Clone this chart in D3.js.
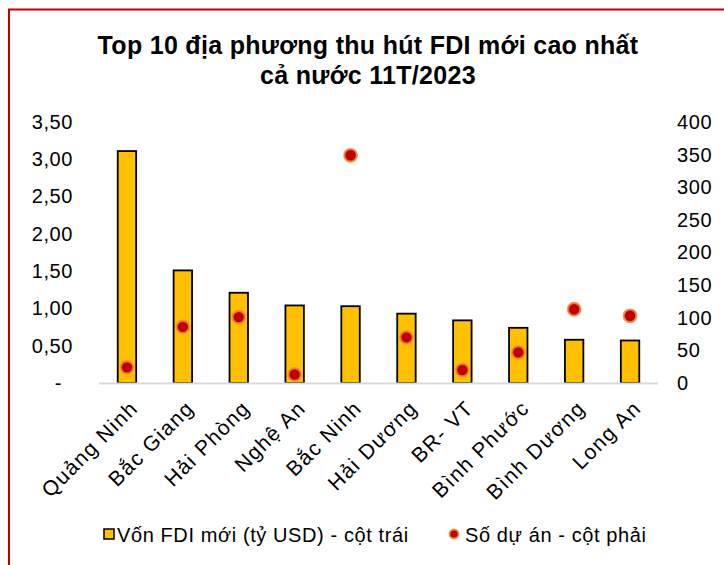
<!DOCTYPE html>
<html>
<head>
<meta charset="utf-8">
<script src="https://cdn.jsdelivr.net/npm/d3@7"></script>
<style>
  body { margin: 0; background: #fff; }
  svg text { font-family: "Liberation Sans", Arial, sans-serif; fill: #000; }
</style>
</head>
<body>
<script>
// Top 10 FDI localities chart - bars on left axis, dots on right axis

const w = 724;
const h = 565;

// data
const provinces = ["Quảng Ninh", "Bắc Giang", "Hải Phòng", "Nghệ An", "Bắc Ninh",
                   "Hải Dương", "BR- VT", "Bình Phước", "Bình Dương", "Long An"];
const fdiCapital = [3.11, 1.51, 1.21, 1.04, 1.03, 0.93, 0.84, 0.74, 0.58, 0.57]; // ty USD
const projectCount = [24, 86, 101, 13, 349, 70, 20, 47, 113, 103];
const leftTicks = [0, 0.5, 1, 1.5, 2, 2.5, 3, 3.5];
const rightTicks = [0, 50, 100, 150, 200, 250, 300, 350, 400];

const titleLines = ["Top 10 địa phương thu hút FDI mới cao nhất", "cả nước 11T/2023"];
const legendLabels = ["Vốn FDI mới (tỷ USD) - cột trái", "Số dự án - cột phải"];

// layout
const plotLeft = 99, plotRight = 658;
const plotTop = 122, plotBottom = 383;

const svg = d3.select("body")
  .append("svg")
  .attr("width", w)
  .attr("height", h);

// red frame (right and bottom edges are off the picture)
svg.append("rect")
  .attr("x", 9)
  .attr("y", 9.5)
  .attr("width", w + 20)
  .attr("height", h + 20)
  .attr("fill", "none")
  .attr("stroke", "#C00000")
  .attr("stroke-width", 2);

// scales
const xScale = d3.scaleBand()
  .domain(provinces)
  .range([plotLeft, plotRight])
  .paddingInner(0.67)
  .paddingOuter(0.335);

const yLeft = d3.scaleLinear().domain([0, 3.5]).range([plotBottom, plotTop]);
const yRight = d3.scaleLinear().domain([0, 400]).range([plotBottom, plotTop]);

// title
svg.append("g").selectAll("text")
  .data(titleLines)
  .enter()
  .append("text")
  .attr("x", 368)
  .attr("y", (d, i) => 54 + i * 30)
  .attr("text-anchor", "middle")
  .style("font-size", "25px")
  .style("letter-spacing", "0.3px")
  .style("font-weight", "bold")
  .text(d => d);

// left axis
const leftAxis = d3.axisLeft(yLeft)
  .tickValues(leftTicks)
  .tickSize(0)
  .tickPadding(0)
  .tickFormat(d => d === 0 ? "-" : d3.format(".2f")(d).replace(".", ","));

const gLeft = svg.append("g")
  .attr("transform", "translate(73,0)")
  .call(leftAxis);
gLeft.select(".domain").remove();
gLeft.selectAll("text")
  .style("font-size", "20px")
  .style("letter-spacing", "0.6px")
  .attr("font-family", null)
  .attr("dx", d => d === 0 ? -11 : 0);

// right axis
const rightAxis = d3.axisRight(yRight)
  .tickValues(rightTicks)
  .tickSize(0)
  .tickPadding(0);

const gRight = svg.append("g")
  .attr("transform", "translate(677,0)")
  .call(rightAxis);
gRight.select(".domain").remove();
gRight.selectAll("text")
  .style("font-size", "20px")
  .style("letter-spacing", "0.6px")
  .attr("font-family", null);

// bars
svg.append("g").selectAll("rect")
  .data(fdiCapital)
  .enter()
  .append("rect")
  .attr("x", (d, i) => xScale(provinces[i]))
  .attr("y", d => yLeft(d))
  .attr("width", xScale.bandwidth())
  .attr("height", d => plotBottom - yLeft(d))
  .attr("fill", "#FFC000")
  .attr("stroke", "#000")
  .attr("stroke-width", 1.8);

// baseline
svg.append("line")
  .attr("x1", plotLeft)
  .attr("x2", plotRight)
  .attr("y1", plotBottom + 0.5)
  .attr("y2", plotBottom + 0.5)
  .attr("stroke", "#D9D9D9")
  .attr("stroke-width", 2);

// dots
svg.append("g").selectAll("circle")
  .data(projectCount)
  .enter()
  .append("circle")
  .attr("cx", (d, i) => xScale(provinces[i]) + xScale.bandwidth() / 2)
  .attr("cy", d => yRight(d))
  .attr("r", 6.3)
  .attr("fill", "#C00000")
  .attr("stroke", "#F08A3C")
  .attr("stroke-opacity", 0.85)
  .attr("stroke-width", 2.2);

// category labels, rotated
svg.append("g").selectAll("text")
  .data(provinces)
  .enter()
  .append("text")
  .attr("transform", d => "translate(" + (xScale(d) + xScale.bandwidth() / 2 + 2) + "," + (plotBottom + 16) + ") rotate(-45)")
  .attr("text-anchor", "end")
  .attr("dy", "0.7em")
  .style("font-size", "21px")
  .style("letter-spacing", "1.4px")
  .text(d => d);

// legend
const legend = svg.append("g");
legend.append("rect")
  .attr("x", 104)
  .attr("y", 529)
  .attr("width", 10)
  .attr("height", 10)
  .attr("fill", "#FFC000")
  .attr("stroke", "#000")
  .attr("stroke-width", 1.5);
legend.append("text")
  .attr("x", 117)
  .attr("y", 542)
  .style("font-size", "20px")
  .style("letter-spacing", "0.6px")
  .text(legendLabels[0]);
legend.append("circle")
  .attr("cx", 454)
  .attr("cy", 534)
  .attr("r", 4.5)
  .attr("fill", "#C00000")
  .attr("stroke", "#F08A3C")
  .attr("stroke-width", 1.8);
legend.append("text")
  .attr("x", 465)
  .attr("y", 542)
  .style("font-size", "20px")
  .style("letter-spacing", "0.6px")
  .text(legendLabels[1]);
</script>
</body>
</html>
